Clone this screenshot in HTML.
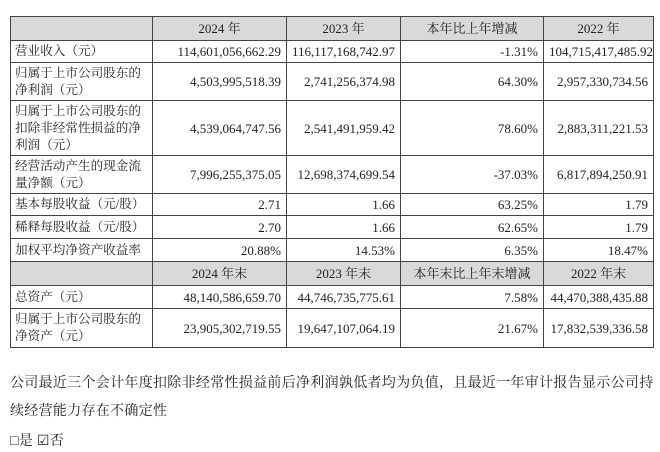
<!DOCTYPE html>
<html><head><meta charset="utf-8">
<style>
html,body{margin:0;padding:0;background:#fff;}
body{width:660px;height:452px;position:relative;overflow:hidden;font-family:"Liberation Serif","Noto Serif CJK SC",serif;color:#222;}
table{position:absolute;left:10px;top:16px;border-collapse:collapse;table-layout:fixed;font-size:13px;width:643px;}
td{border:1.5px solid #444;padding:0 5px;line-height:17px;text-align:right;white-space:nowrap;overflow:hidden;}
td.l{text-align:left;font-size:12.6px;padding:0 3px 0 4px;}
tr.h td{background:#d9d9d9;text-align:center;}
p{position:absolute;left:10px;margin:0;font-size:14px;letter-spacing:0.3px;white-space:nowrap;}
</style></head><body>
<table>
<colgroup><col style="width:142px"><col style="width:134px"><col style="width:114px"><col style="width:143px"><col style="width:110px"></colgroup>
<tr class="h" style="height:24px"><td></td><td>2024 年</td><td>2023 年</td><td>本年比上年增减</td><td>2022 年</td></tr>
<tr style="height:22px"><td class="l">营业收入（元）</td><td>114,601,056,662.29</td><td>116,117,168,742.97</td><td>-1.31%</td><td>104,715,417,485.92</td></tr>
<tr style="height:38px"><td class="l">归属于上市公司股东的<br>净利润（元）</td><td>4,503,995,518.39</td><td>2,741,256,374.98</td><td>64.30%</td><td>2,957,330,734.56</td></tr>
<tr style="height:55px"><td class="l">归属于上市公司股东的<br>扣除非经常性损益的净<br>利润（元）</td><td>4,539,064,747.56</td><td>2,541,491,959.42</td><td>78.60%</td><td>2,883,311,221.53</td></tr>
<tr style="height:38px"><td class="l">经营活动产生的现金流<br>量净额（元）</td><td>7,996,255,375.05</td><td>12,698,374,699.54</td><td>-37.03%</td><td>6,817,894,250.91</td></tr>
<tr style="height:22px"><td class="l">基本每股收益（元/股）</td><td>2.71</td><td>1.66</td><td>63.25%</td><td>1.79</td></tr>
<tr style="height:23px"><td class="l">稀释每股收益（元/股）</td><td>2.70</td><td>1.66</td><td>62.65%</td><td>1.79</td></tr>
<tr style="height:23px"><td class="l">加权平均净资产收益率</td><td>20.88%</td><td>14.53%</td><td>6.35%</td><td>18.47%</td></tr>
<tr class="h" style="height:24px"><td></td><td>2024 年末</td><td>2023 年末</td><td>本年末比上年末增减</td><td>2022 年末</td></tr>
<tr style="height:23px"><td class="l">总资产（元）</td><td>48,140,586,659.70</td><td>44,746,735,775.61</td><td>7.58%</td><td>44,470,388,435.88</td></tr>
<tr style="height:39px"><td class="l">归属于上市公司股东的<br>净资产（元）</td><td>23,905,302,719.55</td><td>19,647,107,064.19</td><td>21.67%</td><td>17,832,539,336.58</td></tr>
</table>
<p style="top:372px">公司最近三个会计年度扣除非经常性损益前后净利润孰低者均为负值，且最近一年审计报告显示公司持</p>
<p style="top:400px">续经营能力存在不确定性</p>
<p style="top:430px"><span>□是</span> <span>☑否</span></p>
</body></html>
